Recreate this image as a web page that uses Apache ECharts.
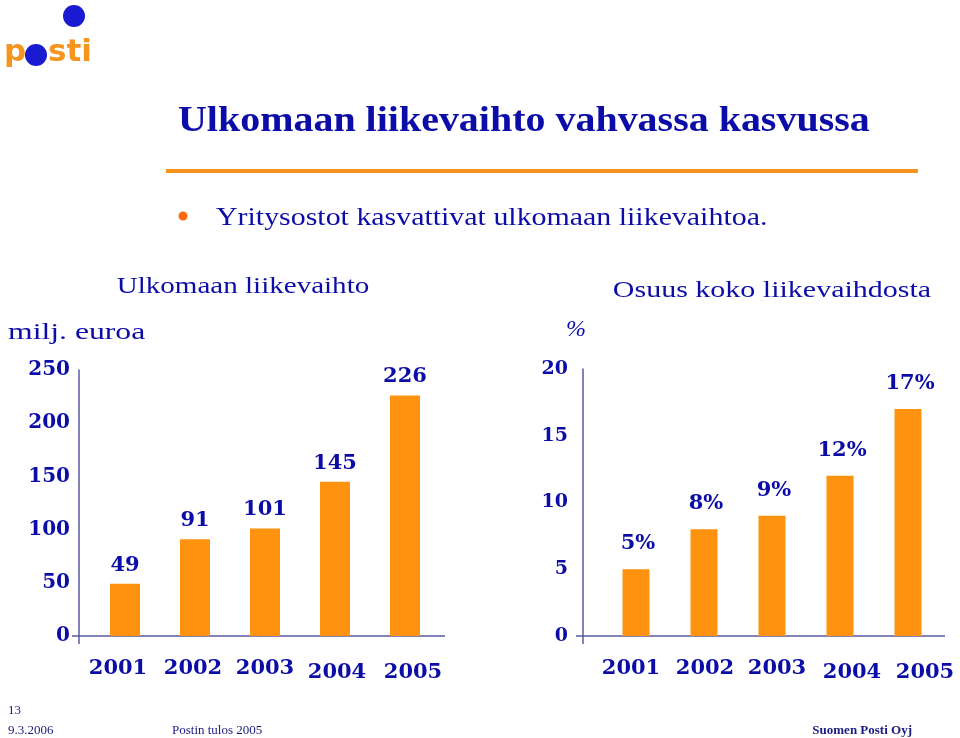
<!DOCTYPE html>
<html>
<head>
<meta charset="utf-8">
<script src="https://cdn.jsdelivr.net/npm/echarts@6/dist/echarts.min.js"></script>
<style>html,body{margin:0;padding:0;background:#fff}#c{width:960px;height:738px}</style>
</head>
<body>
<div id="c"></div>
<script>
const years = ['2001', '2002', '2003', '2004', '2005'];
const revenue = [49, 91, 101, 145, 226];
const share = [5, 8, 9, 12, 17];
const revenueTicks = { min: 0, max: 250, interval: 50 };
const shareTicks = { min: 0, max: 20, interval: 5 };

const BLUE = '#0c0ca8';
const ORANGE = '#ff930f';
const AXIS = '#5a5aa0';
const FONT = '"Liberation Serif", "DejaVu Serif", serif';
const NUMFONT = '"DejaVu Serif", "Liberation Serif", serif';

// label nudges (style only): horizontal shift, vertical shift
const leftNudge = [[-7, 0], [-2, 0], [0, 0], [2, 4], [8, 4]];
const rightNudge = [[-5, 0], [1, 0], [5, 0], [12, 4], [17, 4]];

function makeRich(nudges) {
  const rich = {};
  nudges.forEach(function (n, i) {
    const dx = n[0], dy = n[1];
    rich['y' + i] = {
      fontFamily: NUMFONT, fontWeight: 'bold', fontSize: 21, color: BLUE,
      padding: [dy, dx < 0 ? -2 * dx : 0, 0, dx > 0 ? 2 * dx : 0]
    };
  });
  return rich;
}
function yearFormatter(v, i) { return '{y' + i + '|' + v + '}'; }

const chart = echarts.init(document.getElementById('c'), null, { renderer: 'canvas' });

const option = {
  animation: false,
  backgroundColor: '#ffffff',
  grid: [
    { left: 90, top: 370, width: 350, height: 266 },
    { left: 602, top: 369, width: 340, height: 267 }
  ],
  xAxis: [
    { type: 'category', gridIndex: 0, data: years, axisLine: { show: false }, axisTick: { show: false },
      axisLabel: { margin: 22, formatter: yearFormatter, rich: makeRich(leftNudge) } },
    { type: 'category', gridIndex: 1, data: years, axisLine: { show: false }, axisTick: { show: false },
      axisLabel: { margin: 22, formatter: yearFormatter, rich: makeRich(rightNudge) } }
  ],
  yAxis: [
    { type: 'value', gridIndex: 0, min: revenueTicks.min, max: revenueTicks.max, interval: revenueTicks.interval,
      offset: 11, splitLine: { show: false }, axisTick: { show: false },
      axisLine: { show: true, lineStyle: { color: AXIS, width: 1.5 } },
      axisLabel: { margin: 9, fontFamily: NUMFONT, fontWeight: 'bold', fontSize: 20, color: BLUE } },
    { type: 'value', gridIndex: 1, min: shareTicks.min, max: shareTicks.max, interval: shareTicks.interval,
      offset: 19, splitLine: { show: false }, axisTick: { show: false },
      axisLine: { show: true, lineStyle: { color: AXIS, width: 1.5 } },
      axisLabel: { margin: 15, fontFamily: NUMFONT, fontWeight: 'bold', fontSize: 19, color: BLUE } }
  ],
  series: [
    { type: 'bar', xAxisIndex: 0, yAxisIndex: 0, data: revenue, barWidth: 30,
      itemStyle: { color: ORANGE },
      label: { show: true, position: 'top', distance: 8, fontFamily: NUMFONT, fontWeight: 'bold', fontSize: 21, color: BLUE } },
    { type: 'bar', xAxisIndex: 1, yAxisIndex: 1, data: share, barWidth: 27,
      itemStyle: { color: ORANGE },
      label: { show: true, position: 'top', distance: 15, offset: [2, 0], formatter: '{c}%',
        fontFamily: NUMFONT, fontWeight: 'bold', fontSize: 21, color: BLUE } }
  ],
  graphic: [
    // logo
    { type: 'circle', shape: { cx: 74, cy: 16, r: 11 }, style: { fill: '#1a1ad0' } },
    { type: 'text', x: 4, y: 53, style: { text: 'p', font: 'bold 31px "DejaVu Sans", sans-serif', fill: '#f7941d', textVerticalAlign: 'middle' } },
    { type: 'circle', shape: { cx: 36, cy: 55, r: 11 }, style: { fill: '#1a1ad0' } },
    { type: 'text', x: 48, y: 53, style: { text: 'sti', font: 'bold 31px "DejaVu Sans", sans-serif', fill: '#f7941d', textVerticalAlign: 'middle' } },
    // title
    { type: 'text', x: 178, y: 122, scaleX: 1.11, style: { text: 'Ulkomaan liikevaihto vahvassa kasvussa', font: 'bold 36px ' + FONT, fill: BLUE, textVerticalAlign: 'middle' } },
    { type: 'rect', shape: { x: 166, y: 169, width: 752, height: 4 }, style: { fill: '#f7941d' } },
    { type: 'circle', shape: { cx: 183, cy: 216, r: 4.5 }, style: { fill: '#ff6a10' } },
    { type: 'text', x: 216, y: 218, scaleX: 1.15, style: { text: 'Yritysostot kasvattivat ulkomaan liikevaihtoa.', font: '26px ' + FONT, fill: BLUE, textVerticalAlign: 'middle' } },
    // chart titles
    { type: 'text', x: 243, y: 287, scaleX: 1.21, style: { text: 'Ulkomaan liikevaihto', font: '24px ' + FONT, fill: BLUE, textAlign: 'center', textVerticalAlign: 'middle' } },
    { type: 'text', x: 772, y: 291, scaleX: 1.25, style: { text: 'Osuus koko liikevaihdosta', font: '24px ' + FONT, fill: BLUE, textAlign: 'center', textVerticalAlign: 'middle' } },
    { type: 'text', x: 8, y: 333, scaleX: 1.32, style: { text: 'milj. euroa', font: '24px ' + FONT, fill: BLUE, textVerticalAlign: 'middle' } },
    { type: 'text', x: 566, y: 330, style: { text: '%', font: 'italic 24px ' + FONT, fill: BLUE, textVerticalAlign: 'middle' } },
    // baselines
    { type: 'line', shape: { x1: 72, y1: 636, x2: 445, y2: 636 }, style: { stroke: AXIS, lineWidth: 1.5 } },
    { type: 'line', shape: { x1: 79, y1: 636, x2: 79, y2: 644 }, style: { stroke: AXIS, lineWidth: 1.5 } },
    { type: 'line', shape: { x1: 576, y1: 636, x2: 945, y2: 636 }, style: { stroke: AXIS, lineWidth: 1.5 } },
    { type: 'line', shape: { x1: 583, y1: 636, x2: 583, y2: 644 }, style: { stroke: AXIS, lineWidth: 1.5 } },
    // footer
    { type: 'text', x: 8, y: 711, style: { text: '13', font: '13px ' + FONT, fill: '#1a1a80', textVerticalAlign: 'middle' } },
    { type: 'text', x: 8, y: 731, style: { text: '9.3.2006', font: '13px ' + FONT, fill: '#1a1a80', textVerticalAlign: 'middle' } },
    { type: 'text', x: 172, y: 731, style: { text: 'Postin tulos 2005', font: '13px ' + FONT, fill: '#1a1a80', textVerticalAlign: 'middle' } },
    { type: 'text', x: 912, y: 731, style: { text: 'Suomen Posti Oyj', font: 'bold 13px ' + FONT, fill: '#1a1a80', textAlign: 'right', textVerticalAlign: 'middle' } }
  ]
};
chart.setOption(option);
</script>
</body>
</html>
